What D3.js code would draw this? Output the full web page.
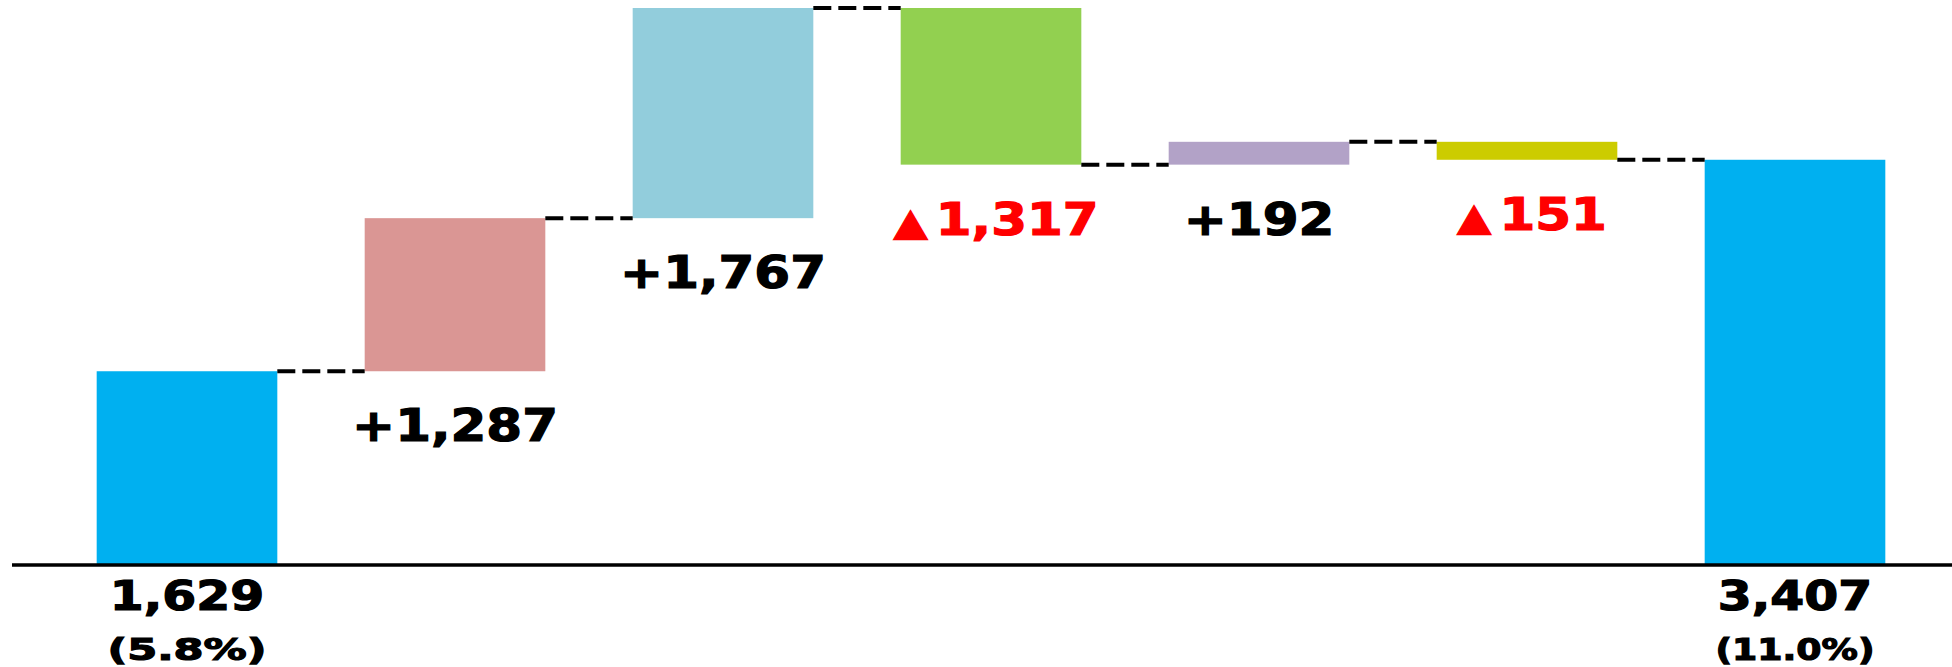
<!DOCTYPE html>
<html>
<head>
<meta charset="utf-8">
<script src="https://cdn.jsdelivr.net/npm/d3@7/dist/d3.min.js"></script>
<style>
  html, body { margin: 0; padding: 0; background: #fff; }
  svg { display: block; }
  text { font-family: "DejaVu Sans", Verdana, sans-serif; font-weight: bold; paint-order: stroke; stroke-width: 1.2; }
</style>
</head>
<body>
<svg id="chart"></svg>
<script>
/* global d3 */
// waterfall steps, left to right
var steps = ["start", "step1", "step2", "step3", "step4", "step5", "end"];
var kinds = ["total", "delta", "delta", "delta", "delta", "delta", "total"];
var values = [1629, 1287, 1767, -1317, 192, -151, 3407];
var shares = ["(5.8%)", "", "", "", "", "", "(11.0%)"];
var colors = ["#00B0F0", "#DA9694", "#92CDDC", "#92D050", "#B2A2C7", "#CCCC00", "#00B0F0"];

var width = 1952,
  height = 667,
  margin = {top: 8, left: 53, right: 23, axisLeft: 12};

// running totals -> floating bars
var run = 0;
var data = steps.map(function(s, i) {
  var v = values[i], d;
  if (kinds[i] === "total") {
    d = {start: 0, end: v};
    run = v;
  } else {
    d = {start: run, end: run + v};
    run += v;
  }
  d.key = s; d.kind = kinds[i]; d.value = v; d.share = shares[i]; d.color = colors[i];
  return d;
});

var xScale = d3.scaleBand()
  .domain(steps)
  .range([margin.left, width - margin.right])
  .paddingInner(0.326)
  .paddingOuter(0.163);

var yScale = d3.scaleLinear()
  .domain([0, d3.max(data, function(d) { return Math.max(d.start, d.end); })])
  .range([565, margin.top]);

var fmt = d3.format(",");

var svg = d3.select("#chart")
  .attr("width", width)
  .attr("height", height);

// bars
svg.append("g").selectAll("rect")
  .data(data)
  .enter().append("rect")
    .attr("x", function(d) { return xScale(d.key); })
    .attr("y", function(d) { return yScale(Math.max(d.start, d.end)); })
    .attr("width", xScale.bandwidth())
    .attr("height", function(d) { return Math.abs(yScale(d.start) - yScale(d.end)); })
    .attr("fill", function(d) { return d.color; });

// dashed connectors between neighbouring bars
svg.append("g").selectAll("line")
  .data(d3.pairs(data))
  .enter().append("line")
    .attr("x1", function(p) { return xScale(p[0].key) + xScale.bandwidth(); })
    .attr("x2", function(p) { return xScale(p[1].key); })
    .attr("y1", function(p) { return yScale(p[0].end); })
    .attr("y2", function(p) { return yScale(p[0].end); })
    .attr("stroke", "#000")
    .attr("stroke-width", 4)
    .attr("stroke-dasharray", "18,7");

// baseline
svg.append("line")
  .attr("x1", margin.axisLeft)
  .attr("x2", width)
  .attr("y1", yScale(0))
  .attr("y2", yScale(0))
  .attr("stroke", "#000")
  .attr("stroke-width", 3.5);

function cx(d) { return xScale(d.key) + xScale.bandwidth() / 2; }
function place(x, y, sx) { return "translate(" + x + "," + y + ") scale(" + sx + ",1)"; }

// totals under the axis
var totals = data.filter(function(d) { return d.kind === "total"; });
svg.append("g").selectAll("text.total")
  .data(totals)
  .enter().append("text")
    .attr("class", "total")
    .attr("text-anchor", "middle")
    .attr("font-size", 40)
    .attr("fill", "#000").attr("stroke", "#000")
    .attr("transform", function(d) { return place(cx(d), yScale(0) + 45, 1.22); })
    .text(function(d) { return fmt(d.value); });

svg.append("g").selectAll("text.share")
  .data(totals)
  .enter().append("text")
    .attr("class", "share")
    .attr("text-anchor", "middle")
    .attr("font-size", 31)
    .attr("fill", "#000").attr("stroke", "#000")
    .attr("x", cx)
    .attr("y", yScale(0) + 95)
    .attr("textLength", xScale.bandwidth() * 0.88)
    .attr("lengthAdjust", "spacingAndGlyphs")
    .text(function(d) { return d.share; });

// change labels under each floating bar
var deltas = data.filter(function(d) { return d.kind === "delta"; });
var dl = svg.append("g").selectAll("text.delta")
  .data(deltas)
  .enter().append("text")
    .attr("class", "delta")
    .attr("text-anchor", "middle")
    .attr("font-size", 44)
    .attr("fill", function(d) { return d.value < 0 ? "#FF0000" : "#000"; })
    .attr("stroke", function(d) { return d.value < 0 ? "#FF0000" : "#000"; })
    .attr("transform", function(d) {
      return place(cx(d) + (d.value < 0 ? 5 : 0), yScale(Math.min(d.start, d.end)) + 70, 1.17);
    });

dl.append("tspan")
  .attr("font-size", function(d) { return d.value < 0 ? 38 : 44; })
  .text(function(d) { return d.value < 0 ? "\u25B2" : "+"; });
dl.append("tspan")
  .attr("dx", function(d) { return d.value < 0 ? 7 : 0; })
  .text(function(d) { return fmt(Math.abs(d.value)); });
</script>
</body>
</html>
